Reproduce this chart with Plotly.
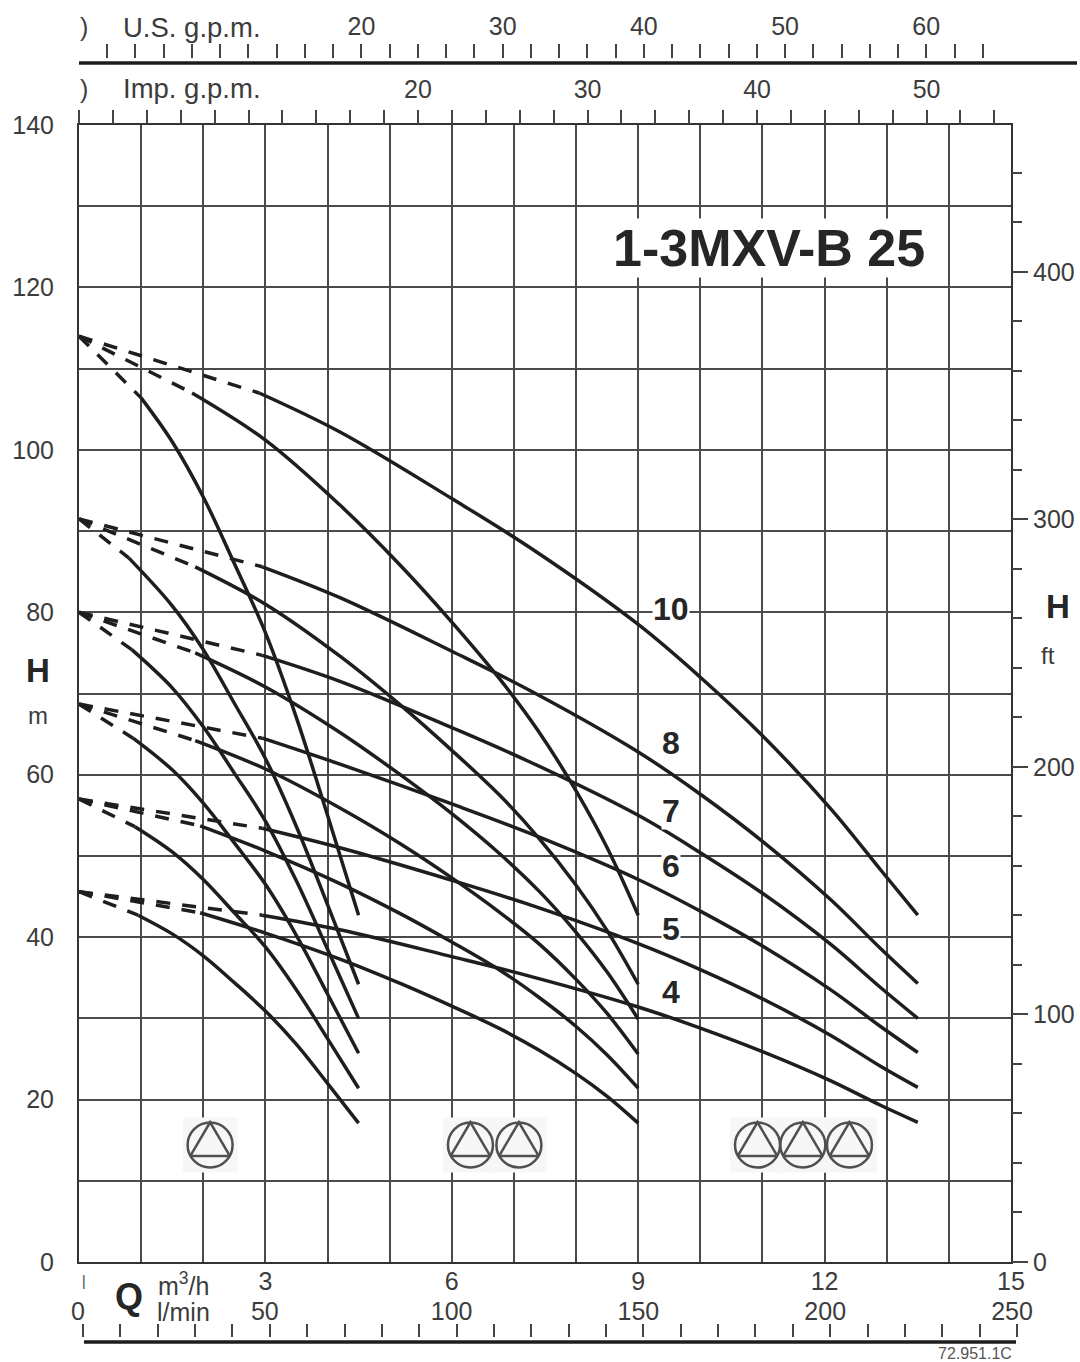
import plotly.graph_objects as go

W, H = 1080, 1362
L, R, T, B = 79, 1011, 125, 1262
INK = "#1e1e1e"
TXT = "#3c3c3c"
FONT = "Liberation Sans, Arial, sans-serif"

# ---- axis tick data
q_labels = {3: "3", 6: "6", 9: "9", 12: "12", 15: "15"}
h_m_labels = list(range(0, 141, 20))
h_ft_major = [0, 100, 200, 300, 400]
lmin_labels = [0, 50, 100, 150, 200, 250]
imp_labels = [20, 30, 40, 50]
usg_labels = [20, 30, 40, 50, 60]

# ---- shut-off heads per stage
stages = [10, 8, 7, 6, 5, 4]
shutoff = {10: 114, 8: 91.5, 7: 80, 6: 68.7, 5: 57, 4: 45.6}

# ---- one pump running
q_one = [1.5, 2, 2.5, 3, 3.5, 4, 4.5]
q_one_start = {10: 1.0, 8: 0.8, 7: 0.85, 6: 0.87, 5: 0.9, 4: 0.95}
h_one_start = {10: 106.4, 8: 86.7, 7: 75.4, 6: 64.5, 5: 53.6, 4: 42.7}
h_one_10 = [101, 94.2, 86, 77.5, 67, 55, 42.7]
h_one_8 = [80.8, 75.4, 68.8, 62, 53.6, 44, 34.2]
h_one_7 = [70.7, 65.9, 60.2, 54.3, 46.9, 38.5, 30]
h_one_6 = [60.6, 56.5, 51.6, 46.5, 40.2, 33, 25.7]
h_one_5 = [50.5, 47.1, 43, 38.8, 33.5, 27.5, 21.4]
h_one_4 = [40.4, 37.7, 34.4, 30.9, 26.8, 22, 17.1]

# ---- two pumps running
q_two = [3, 4.2, 5.17, 6, 6.78, 7.4, 8, 8.5, 9]
q_two_start = {10: 1.82, 8: 1.87, 7: 1.87, 6: 1.87, 5: 1.95, 4: 1.95}
h_two_start = {10: 107, 8: 85.6, 7: 75, 6: 64.2, 5: 53.7, 4: 43}
h_two_10 = [101.2, 93.2, 85.8, 78.8, 71.7, 65.3, 58, 51, 42.7]
h_two_8 = [81, 74.6, 68.6, 63, 57.4, 52.2, 46.4, 40.8, 34.2]
h_two_7 = [70.8, 65.2, 60, 55.2, 50.2, 45.7, 40.6, 35.7, 29.9]
h_two_6 = [60.7, 55.9, 51.5, 47.3, 43, 39.2, 34.8, 30.6, 25.6]
h_two_5 = [50.6, 46.6, 42.9, 39.4, 35.9, 32.6, 29, 25.5, 21.4]
h_two_4 = [40.5, 37.3, 34.3, 31.5, 28.7, 26.1, 23.2, 20.4, 17.1]

# ---- three pumps running
q_three = [4.2, 6, 7.25, 9, 10, 11, 12.1, 12.9, 13.5]
q_three_start = {10: 2.9, 8: 2.95, 7: 2.95, 6: 2.95, 5: 2.95, 4: 2.95}
h_three_start = {10: 107, 8: 85.6, 7: 74.7, 6: 64.5, 5: 53.4, 4: 42.7}
h_three_10 = [102.2, 94, 88, 78.5, 72, 64.8, 55.8, 48.3, 42.7]
h_three_8 = [81.8, 75.2, 70.4, 62.8, 57.6, 51.8, 44.6, 38.6, 34.3]
h_three_7 = [71.5, 65.8, 61.6, 55, 50.4, 45.4, 39.1, 33.8, 30]
h_three_6 = [61.3, 56.4, 52.8, 47.1, 43.2, 38.9, 33.5, 29, 25.8]
h_three_5 = [51, 47, 44, 39.2, 36, 32.4, 27.9, 24.1, 21.5]
h_three_4 = [40.9, 37.6, 35.2, 31.4, 28.8, 25.9, 22.3, 19.3, 17.2]

families = [
    (q_one, q_one_start, h_one_start,
     {10: h_one_10, 8: h_one_8, 7: h_one_7, 6: h_one_6, 5: h_one_5, 4: h_one_4}),
    (q_two, q_two_start, h_two_start,
     {10: h_two_10, 8: h_two_8, 7: h_two_7, 6: h_two_6, 5: h_two_5, 4: h_two_4}),
    (q_three, q_three_start, h_three_start,
     {10: h_three_10, 8: h_three_8, 7: h_three_7, 6: h_three_6, 5: h_three_5, 4: h_three_4}),
]

# ---- pump symbols
pump_q = [2.11, 6.3, 7.08, 10.92, 11.65, 12.4]
pump_h = [14.4] * 6


def px(x):
    return x / W


def py(y):
    return 1 - y / H


fig = go.Figure()

# Pump symbols (below the curves, covering the grid)
fig.add_trace(go.Scatter(x=pump_q, y=pump_h, mode="markers", showlegend=False, hoverinfo="skip",
                         marker=dict(symbol="square", size=55, color="#f7f7f7", line=dict(width=0))))
fig.add_trace(go.Scatter(x=pump_q, y=pump_h, mode="markers", showlegend=False, hoverinfo="skip",
                         marker=dict(symbol="circle-open", size=45, color="#505050", line=dict(width=2.5, color="#505050"))))
tri_x, tri_y = [], []
for q, h in zip(pump_q, pump_h):
    tri_x += [q - 0.32, q, q + 0.32, q - 0.32, None]
    tri_y += [h - 1.35, h + 2.8, h - 1.35, h - 1.35, None]
fig.add_trace(go.Scatter(x=tri_x, y=tri_y, mode="lines", showlegend=False, hoverinfo="skip",
                         line=dict(color="#505050", width=2.5)))

for q_list, q_start, h_start, heads in families:
    for s in stages:
        fig.add_trace(go.Scatter(x=[0, q_start[s]], y=[shutoff[s], h_start[s]], mode="lines",
                                 showlegend=False, hoverinfo="skip",
                                 line=dict(color=INK, width=3.5, dash="14px,12px")))
        fig.add_trace(go.Scatter(x=[q_start[s]] + q_list, y=[h_start[s]] + heads[s], mode="lines",
                                 showlegend=False, hoverinfo="skip",
                                 line=dict(color=INK, width=3.5, shape="spline", smoothing=1.0)))

# Invisible traces that activate the extra axes
for xa, ya in [("x2", "y"), ("x3", "y"), ("x4", "y3"), ("x5", "y3"), ("x", "y2")]:
    fig.add_trace(go.Scatter(x=[0], y=[0], xaxis=xa, yaxis=ya, mode="none", showlegend=False, hoverinfo="skip"))

tick_font = dict(family=FONT, size=25, color=TXT)

layout = dict(
    width=W, height=H,
    margin=dict(l=0, r=0, t=0, b=0, autoexpand=False),
    paper_bgcolor="white", plot_bgcolor="rgba(0,0,0,0)",
    showlegend=False, font=dict(family=FONT, color=TXT),
    xaxis=dict(domain=[px(L), px(R)], range=[0, 15], tickvals=list(range(16)),
               ticktext=[q_labels.get(i, "") for i in range(16)], ticks="",
               tickfont=tick_font, ticklabelstandoff=-4, showgrid=True, gridcolor="#4a4a4a", gridwidth=2,
               zeroline=False, showline=True, linecolor="#333333", linewidth=2, mirror=True, anchor="y"),
    yaxis=dict(domain=[py(B), py(T)], range=[0, 140], tickvals=list(range(0, 141, 10)),
               ticktext=[str(v) if v in h_m_labels else "" for v in range(0, 141, 10)], ticks="",
               tickfont=tick_font, ticklabelstandoff=18, showgrid=True, gridcolor="#4a4a4a", gridwidth=2,
               zeroline=False, showline=True, linecolor="#333333", linewidth=2, mirror=True, anchor="x"),
    # Imp. g.p.m.
    xaxis2=dict(overlaying="x", side="top", anchor="y", range=[0, 54.98],
                tickvals=list(range(0, 55, 2)),
                ticktext=[str(v) if v in imp_labels else "" for v in range(0, 55, 2)],
                ticks="outside", ticklen=14, tickwidth=2, tickcolor="#444444",
                tickfont=tick_font, ticklabelstandoff=2, showgrid=False, zeroline=False, showline=False),
    # U.S. g.p.m.
    xaxis3=dict(overlaying="x", side="top", anchor="free", position=py(58), range=[0, 66],
                tickvals=list(range(2, 66, 2)),
                ticktext=[str(v) if v in usg_labels else "" for v in range(2, 66, 2)],
                ticks="outside", ticklen=14, tickwidth=2, tickcolor="#444444",
                tickfont=tick_font, ticklabelstandoff=-1, showgrid=False, zeroline=False, showline=False),
    # l/min tick marks
    xaxis4=dict(domain=[px(83), px(1017)], side="top", anchor="y3", range=[0, 250],
                tickvals=list(range(0, 251, 10)), showticklabels=False,
                ticks="outside", ticklen=13, tickwidth=2, tickcolor="#444444",
                showgrid=False, zeroline=False, showline=False),
    # l/min labels
    xaxis5=dict(domain=[px(78), px(1012)], side="top", anchor="y3", range=[0, 250],
                tickvals=lmin_labels, ticks="", tickfont=tick_font, ticklabelstandoff=12,
                showgrid=False, zeroline=False, showline=False),
    yaxis3=dict(domain=[py(1362), py(1338)], anchor="x4", range=[0, 1], visible=False),
    # H ft
    yaxis2=dict(overlaying="y", side="right", anchor="x", range=[0, 459.3],
                tickvals=h_ft_major, ticks="outside", ticklen=16, tickwidth=2, tickcolor="#444444",
                minor=dict(tickvals=list(range(0, 461, 20)), ticks="outside", ticklen=10, tickwidth=2, tickcolor="#444444"),
                tickfont=tick_font, showgrid=False, zeroline=False, showline=False),
)
fig.update_layout(**layout)

# Thick scale rules
fig.add_shape(type="line", xref="paper", yref="paper", x0=px(79), x1=px(1077), y0=py(63), y1=py(63),
              line=dict(color="#1c1c1c", width=3.5))
fig.add_shape(type="line", xref="paper", yref="paper", x0=px(84), x1=px(1016), y0=py(1342), y1=py(1342),
              line=dict(color="#1c1c1c", width=3.5))


def note(text, x, y, size, bold=False, color=TXT, bg=None, anchor="center"):
    fig.add_annotation(xref="paper", yref="paper", x=px(x), y=py(y), text=f"<b>{text}</b>" if bold else text,
                       showarrow=False, xanchor=anchor, yanchor="middle",
                       font=dict(family=FONT, size=size, color=color), bgcolor=bg, borderpad=0)


note("U.S. g.p.m.", 192, 27, 27.5)
note("Imp. g.p.m.", 192, 89, 27.5)
note(")", 84, 27, 25)
note(")", 84, 89, 25)
note("1-3MXV-B 25", 769, 248, 52, bold=True, color="#262626", bg="white")
note("H", 38, 670, 33, bold=True, color="#262626")
note("m", 38, 715, 24)
note("H", 1058, 606, 33, bold=True, color="#262626")
note("ft", 1048, 655, 24)
note("Q", 129, 1296, 36, bold=True, color="#262626")
note("m<sup>3</sup>/h", 183, 1284, 25)
note("l/min", 183, 1312, 25)
note("|", 84, 1281, 14)
note("72.951.1C", 975, 1353, 16, color="#555555")
for lab, y in [("10", 609), ("8", 743), ("7", 811), ("6", 866), ("5", 929), ("4", 992)]:
    note(lab, 671, y, 32, bold=True, color="#262626", bg="white")

fig.write_html("out.html", post_script="document.body.style.margin='0';",
               config={"displayModeBar": False})
